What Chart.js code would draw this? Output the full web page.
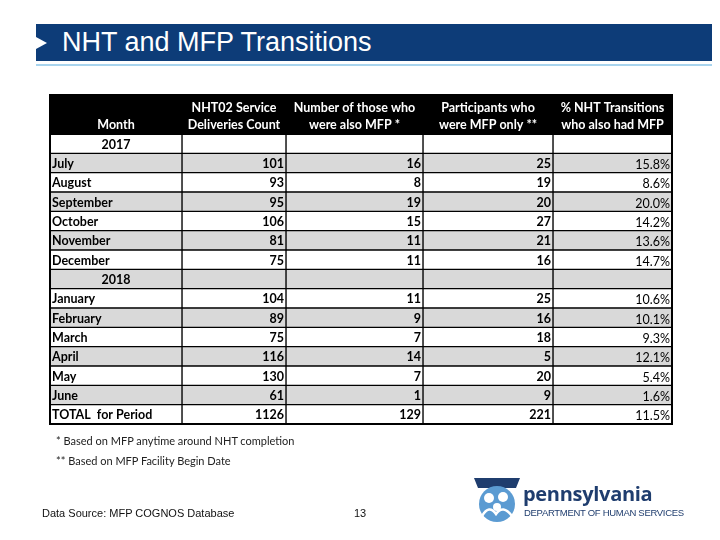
<!DOCTYPE html>
<html>
<head>
<meta charset="utf-8">
<script src="https://cdn.jsdelivr.net/npm/chart.js@4"></script>
<style>
  body { margin: 0; background: #fff; }
  #wrap { position: relative; width: 720px; height: 540px; overflow: hidden; }
  #tableChart { position: absolute; left: 0; top: 0; }
  .titlebar { position: absolute; left: 36px; top: 24px; width: 676px; height: 37px; background: #0d3c78; }
  .titlebar .arrow { position: absolute; left: 0; top: 13px; width: 0; height: 0;
    border-top: 6px solid transparent; border-bottom: 6px solid transparent; border-left: 11px solid #fff; }
  .titlebar .text { position: absolute; left: 26px; top: 3px; color: #fff;
    font: 27px "Liberation Sans", Arial, sans-serif; white-space: nowrap; }
  .rule { position: absolute; left: 36px; top: 64px; width: 676px; height: 2px; background: #a8d4ee; }
  .note { position: absolute; font: 11px Lato, sans-serif; color: #222; white-space: nowrap; }
  .src { position: absolute; font: 11px "Liberation Sans", Arial, sans-serif; color: #111; white-space: nowrap; }
  .pa { position: absolute; left: 523px; top: 480px; font: bold 20px "Open Sans", sans-serif; color: #1f3d6e; letter-spacing: -0.3px; }
  .dhs { position: absolute; left: 524px; top: 507px; font: 9.5px "Liberation Sans", Arial, sans-serif; color: #1f3d6e; letter-spacing: -0.3px; }
</style>
</head>
<body>
<div id="wrap">
  <canvas id="tableChart" width="720" height="540"></canvas>
  <div class="titlebar"><div class="arrow"></div><div class="text">NHT and MFP Transitions</div></div>
  <div class="rule"></div>
  <div class="note" style="left:56px; top:434px;">* Based on MFP anytime around NHT completion</div>
  <div class="note" style="left:56px; top:454px;">** Based on MFP Facility Begin Date</div>
  <div class="src" style="left:42px; top:507px;">Data Source: MFP COGNOS Database</div>
  <div class="src" style="left:354px; top:507px;">13</div>
  <svg style="position:absolute; left:472px; top:476px;" width="50" height="48" viewBox="0 0 50 48">
    <path d="M2 2 H48 L44 12 H6 Z" fill="#1f3d6e"/>
    <circle cx="25" cy="28" r="18" fill="#5b9bd2"/>
    <circle cx="17" cy="22" r="5" fill="#fff"/>
    <circle cx="31" cy="21" r="5" fill="#fff"/>
    <circle cx="25" cy="31" r="4" fill="#fff"/>
    <path d="M10 40 Q17 28 24 38 Q31 28 40 40" fill="none" stroke="#fff" stroke-width="2.5"/>
  </svg>
  <div class="pa">pennsylvania</div>
  <div class="dhs">DEPARTMENT OF HUMAN SERVICES</div>
</div>
<script>
// table contents
const rowLabels = ['2017', 'July', 'August', 'September', 'October', 'November', 'December',
  '2018', 'January', 'February', 'March', 'April', 'May', 'June', 'TOTAL  for Period'];
const yearRows = ['2017', '2018'];
const serviceCount = [null, 101, 93, 95, 106, 81, 75, null, 104, 89, 75, 116, 130, 61, 1126];
const alsoMFP = [null, 16, 8, 19, 15, 11, 11, null, 11, 9, 7, 14, 7, 1, 129];
const mfpOnly = [null, 25, 19, 20, 27, 21, 16, null, 25, 16, 18, 5, 20, 9, 221];
const pctAlsoMFP = [null, 15.8, 8.6, 20.0, 14.2, 13.6, 14.7, null, 10.6, 10.1, 9.3, 12.1, 5.4, 1.6, 11.5];
const columnHeaders = [
  ['Month'],
  ['NHT02 Service', 'Deliveries Count'],
  ['Number of those who', 'were also MFP *'],
  ['Participants who', 'were MFP only **'],
  ['% NHT Transitions', 'who also had MFP']
];

// layout (column edges in table units = px)
const colEdges = [0, 132, 236, 373, 503, 622];
const headerHeight = 39;
const FONT = 'Lato, "Open Sans", sans-serif';

const rowFill = rowLabels.map((_, i) => i % 2 === 0 ? '#ffffff' : '#d9d9d9');
const datasets = columnHeaders.map((h, c) => ({
  label: h.join(' '),
  data: rowLabels.map(() => [colEdges[c], colEdges[c + 1]]),
  backgroundColor: rowFill,
  borderColor: '#000',
  borderWidth: 1,
  borderSkipped: false,
  categoryPercentage: 1,
  barPercentage: 1,
  grouped: false
}));

const tableText = {
  id: 'tableText',
  afterDatasetsDraw(chart) {
    const { ctx, chartArea, scales: { x, y } } = chart;
    ctx.save();
    // header band
    ctx.fillStyle = '#000';
    ctx.fillRect(chartArea.left, chartArea.top - headerHeight, chartArea.right - chartArea.left, headerHeight + 1);
    ctx.fillStyle = '#fff';
    ctx.font = 'bold 12.5px ' + FONT;
    ctx.textAlign = 'center';
    ctx.textBaseline = 'middle';
    columnHeaders.forEach((lines, c) => {
      const cx = (x.getPixelForValue(colEdges[c]) + x.getPixelForValue(colEdges[c + 1])) / 2;
      lines.forEach((t, k) => {
        const ly = chartArea.top - 9 - (lines.length - 1 - k) * 17;
        ctx.fillText(t, cx, ly);
      });
    });

    // body
    const cols = [serviceCount, alsoMFP, mfpOnly];
    ctx.fillStyle = '#000';
    rowLabels.forEach((lab, i) => {
      const yc = y.getPixelForValue(i) + 1;
      ctx.font = 'bold 12.5px ' + FONT;
      if (yearRows.includes(lab)) {
        ctx.textAlign = 'center';
        ctx.fillText(lab, (x.getPixelForValue(colEdges[0]) + x.getPixelForValue(colEdges[1])) / 2, yc);
      } else {
        ctx.textAlign = 'left';
        ctx.fillText(lab, x.getPixelForValue(colEdges[0]) + 2, yc);
      }
      ctx.textAlign = 'right';
      cols.forEach((arr, c) => {
        if (arr[i] !== null) ctx.fillText(String(arr[i]), x.getPixelForValue(colEdges[c + 2]) - 2, yc);
      });
      if (pctAlsoMFP[i] !== null) {
        ctx.font = '12.5px ' + FONT;
        ctx.fillText(pctAlsoMFP[i].toFixed(1) + '%', x.getPixelForValue(colEdges[5]) - 2, yc + 1);
      }
    });

    // outer frame
    ctx.strokeStyle = '#000';
    ctx.lineWidth = 2;
    ctx.strokeRect(chartArea.left, chartArea.top - headerHeight, chartArea.right - chartArea.left,
      chartArea.bottom - chartArea.top + headerHeight);
    ctx.restore();
  }
};

new Chart(document.getElementById('tableChart').getContext('2d'), {
  type: 'bar',
  data: { labels: rowLabels, datasets },
  options: {
    indexAxis: 'y',
    responsive: false,
    animation: false,
    layout: { padding: { left: 50, right: 48, top: 134, bottom: 116 } },
    plugins: { legend: { display: false }, tooltip: { enabled: false }, title: { display: false } },
    scales: {
      x: { display: false, min: colEdges[0], max: colEdges[colEdges.length - 1] },
      y: { display: false }
    }
  },
  plugins: [tableText]
});
</script>
</body>
</html>
